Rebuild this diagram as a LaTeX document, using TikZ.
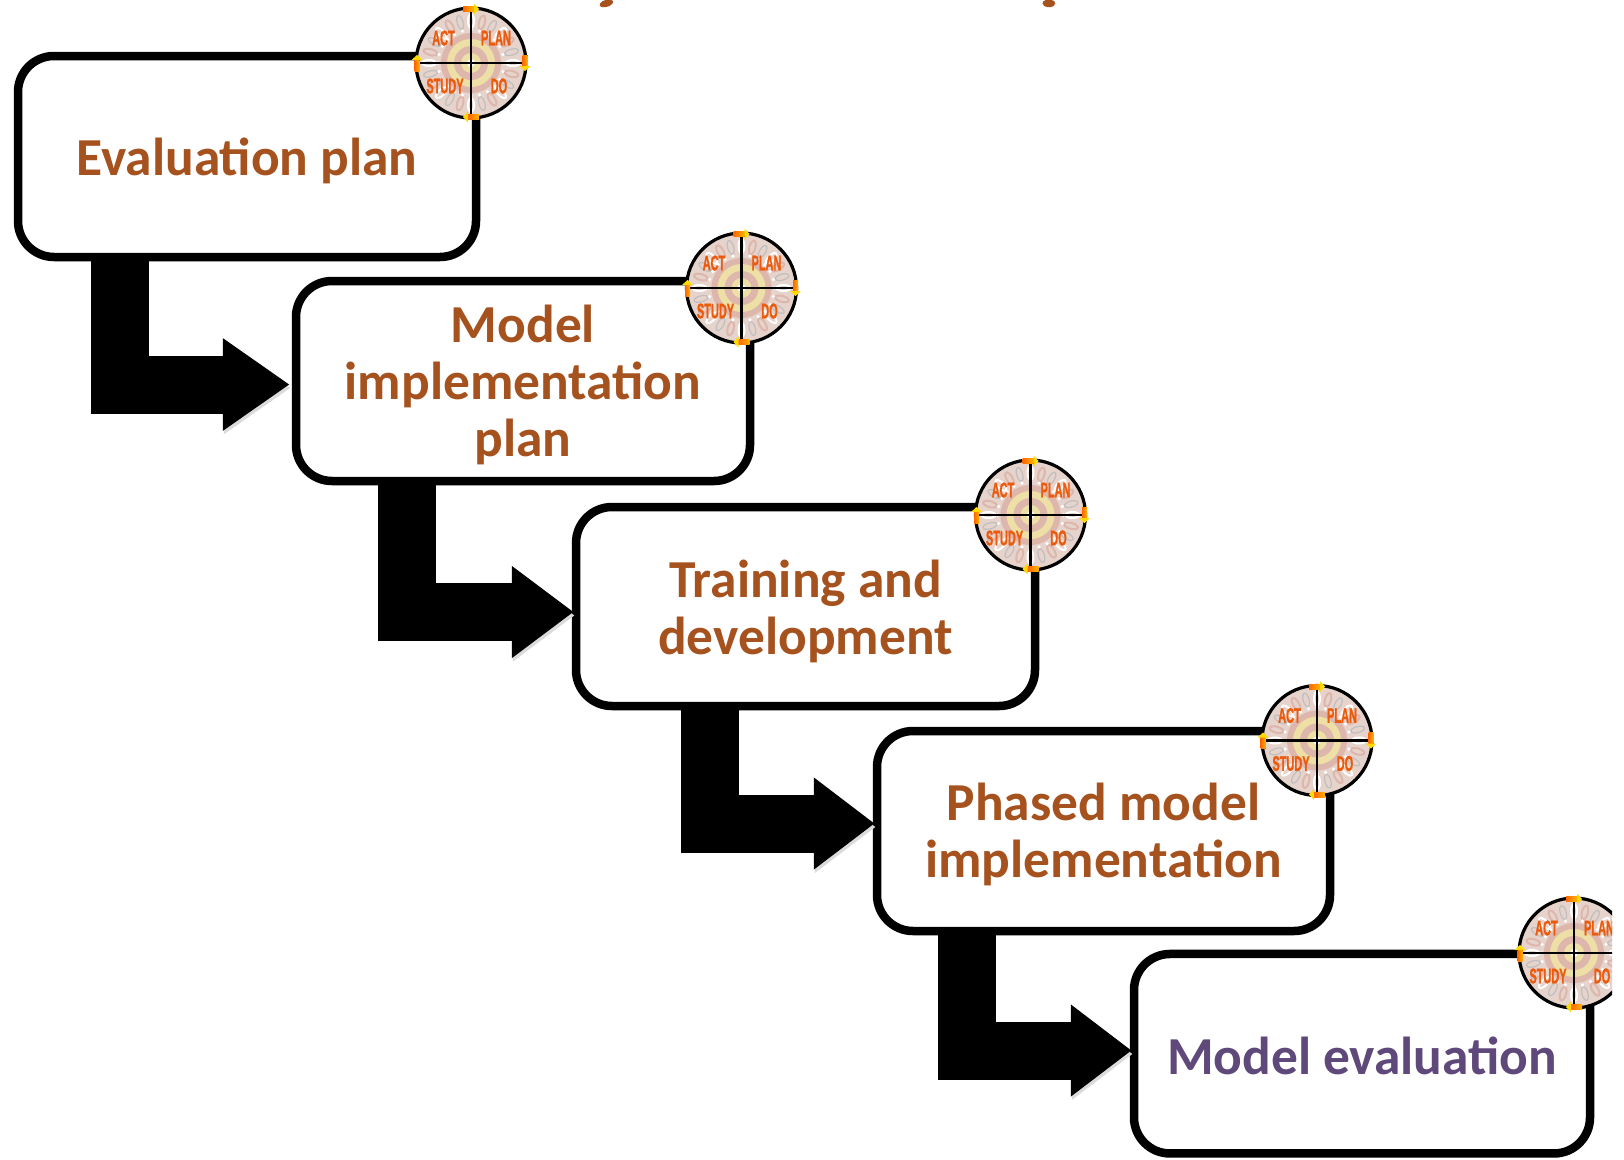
\documentclass[tikz,border=0pt]{standalone}
\usepackage{fontspec}
\setmainfont{Carlito}
\newfontfamily\pdcafont[BoldFeatures={FakeBold=1.6}]{Liberation Sans}
\usetikzlibrary{arrows.meta,shadows}

\definecolor{stepbrown}{HTML}{A5521F}
\definecolor{stepviolet}{HTML}{5F497A}
\definecolor{pdcadisc}{HTML}{E6D3CB}
\definecolor{pdcapink}{HTML}{DDB6AC}
\definecolor{pdcayellow}{HTML}{EEDFA6}
\definecolor{pdcatext}{HTML}{EC5A0C}

\tikzset{
  stepbox/.style={draw, line width=.85mm, rounded corners=3.6mm, fill=white, align=center,
    minimum width=45.5mm, minimum height=20mm, text=stepbrown,
    font=\fontsize{15.2pt}{16.2pt}\selectfont\bfseries,
    drop shadow={shadow xshift=.2mm, shadow yshift=-.4mm, opacity=.2}},
  textdrop/.style={execute at begin node={\rule{0pt}{#1}}},
  elbow/.style={-{Triangle[length=#1, width=8.8mm]}, line width=5.8mm,
    preaction={draw=black!14, transform canvas={shift={(.1mm,-.35mm)}}}},
  elbow/.default=6.1mm,
  pdcalabel/.style={text=pdcatext, inner sep=0pt, font=\pdcafont\fontsize{6pt}{6pt}\selectfont\bfseries},
  pdca/.pic={
    % Disc and rings
    \fill[pdcadisc] (0,0) circle (55);
    \fill[pdcapink] (0,0) circle (30);
    \fill[pdcayellow] (0,0) circle (24);
    \fill[pdcapink] (0,0) circle (17);
    \fill[pdcayellow] (0,0) circle (10);
    \fill[white] (0,0) circle (4);
    % Petals and dots
    \foreach \a in {0,45,...,315} {
      \draw[white, line width=.2mm, rotate=\a] (42,0) ellipse (7 and 3);
      \draw[black!25, line width=.12mm, rotate=\a+15] (42,0) ellipse (7 and 3);
      \draw[pdcapink, line width=.2mm, rotate=\a+30] (42,0) ellipse (7 and 3);
    }
    \foreach \a in {0,15,...,345}
      \fill[white] (\a:33) circle (1.8);
    % Cross and outline
    \draw[line width=.25mm] (-55,0) -- (55,0) (0,-55) -- (0,55);
    \draw[line width=.32mm] (0,0) circle (55);
    % Labels
    \node[pdcalabel] (-act) at (-27.5,-25) {\scalebox{.52}[1]{ACT}};
    \node[pdcalabel] (-plan) at (25,-25) {\scalebox{.52}[1]{PLAN}};
    \node[pdcalabel] (-study) at (-26,23) {\scalebox{.52}[1]{STUDY}};
    \node[pdcalabel] (-do) at (28,23) {\scalebox{.52}[1]{DO}};
    % Small turning arrows
    \foreach \a in {0,-90,-180,-270} {
      \begin{scope}[rotate=\a]
        \fill[left color=red!20!orange, right color=orange!60!yellow] (-8,-56.5) rectangle (3,-51.5);
        \fill[orange!30!yellow] (3,-59.5) -- (8,-54) -- (3,-48.5) -- cycle;
      \end{scope}
    }
  }
}

\begin{document}
\begin{tikzpicture}[x=.1mm, y=-.1mm]
\useasboundingbox (0,0) rectangle (1624,1159);

% Ends of the cut-off heading
\fill[stepbrown, rounded corners=.4mm] (602,0) -- (615,0) -- (610,7) -- (598,7) -- cycle;
\fill[stepbrown, rounded corners=.4mm] (1042,0) -- (1055.5,0) -- (1055,7) -- (1043,7) -- cycle;

% Steps
\node[stepbox, textdrop=13.05pt, minimum width=45.8mm, minimum height=20.1mm] (evalplan) at (247,156.5) {Evaluation plan};
\node[stepbox, textdrop=45.5pt, minimum width=45.4mm] (implplan) at (523,381) {Model\\implementation\\plan};
\node[stepbox, textdrop=29.5pt, minimum width=45.9mm, minimum height=19.9mm] (training) at (805.5,606.5) {Training and\\development};
\node[stepbox, textdrop=29pt, minimum width=45.3mm] (phased) at (1103.5,831) {Phased model\\implementation};
\node[stepbox, textdrop=11.9pt, minimum width=45.6mm, minimum height=19.95mm, text=stepviolet] (modeleval) at (1362,1053.7) {Model evaluation};

% Connections
\draw[elbow=6.7mm] ([xshift=10.6mm]evalplan.south west) |- ([xshift=-.2mm, yshift=-.35mm]implplan.west);
\draw[elbow=6.2mm] ([xshift=11.5mm]implplan.south west) |- ([xshift=.2mm, yshift=-.55mm]training.west);
\draw[elbow] ([xshift=13.8mm]training.south west) |- ([xshift=.2mm, yshift=.75mm]phased.west);
\draw[elbow] ([xshift=9.4mm]phased.south west) |- ([xshift=.2mm, yshift=.32mm]modeleval.west);

% PDCA discs
\pic (pdcaa) at (471,63) {pdca};
\pic (pdcab) at (741.5,288) {pdca};
\pic (pdcac) at (1030.5,515) {pdca};
\pic (pdcad) at (1317,740.5) {pdca};
\begin{scope}
  \clip (0,0) rectangle (1612,1159);
  \pic (pdcae) at (1574,953) {pdca};
\end{scope}
\end{tikzpicture}
\end{document}
